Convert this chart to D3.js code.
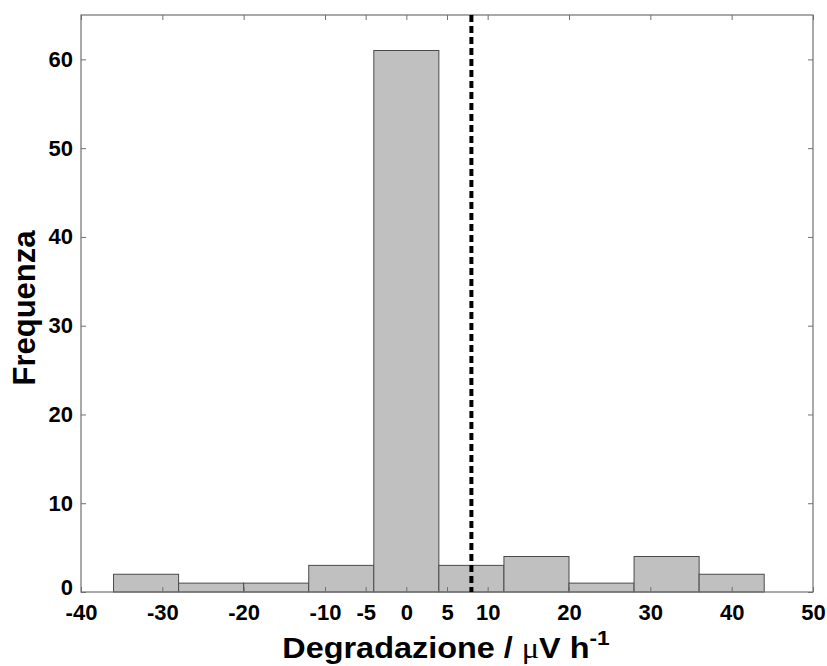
<!DOCTYPE html>
<html>
<head>
<meta charset="utf-8">
<script src="https://cdn.jsdelivr.net/npm/d3@7"></script>
<style>
  body { margin: 0; background: #fff; }
  svg text { font-family: Arial, "Liberation Sans", sans-serif; font-weight: bold; }
</style>
</head>
<body>
<div id="chart-area"></div>
<script>
// histogram bin edges and counts
const binEdges = [-36, -28, -20, -12, -4, 4, 12, 20, 28, 36, 44];
const counts = [2, 1, 1, 3, 61, 3, 4, 1, 4, 2];
const xTicks = [-40, -30, -20, -10, -5, 0, 5, 10, 20, 30, 40, 50];
const yTicks = [0, 10, 20, 30, 40, 50, 60];
const dashedAt = [8];

let margin = {left: 81, right: 14, top: 15, bottom: 74};
let width = 827 - margin.left - margin.right;
let height = 666 - margin.top - margin.bottom;

let svg = d3.select("#chart-area")
  .append("svg")
  .attr("width", 827)
  .attr("height", 666);

let g = svg.append("g")
  .attr("transform", "translate(" + margin.left + "," + margin.top + ")");

let x = d3.scaleLinear().domain([-40, 50]).range([0, width]);
let y = d3.scaleLinear().domain([0, 65]).range([height, 0]);

const axisCol = "#707070";

// bars
let bins = counts.map((c, i) => ({x0: binEdges[i], x1: binEdges[i + 1], n: c}));
g.append("g")
  .selectAll("rect")
  .data(bins)
  .enter()
  .append("rect")
  .attr("x", d => x(d.x0))
  .attr("y", d => y(d.n))
  .attr("width", d => x(d.x1) - x(d.x0))
  .attr("height", d => y(0) - y(d.n))
  .attr("fill", "#c0c0c0")
  .attr("stroke", "#4a4a4a")
  .attr("stroke-width", 1);

// axes, ticks inside on all four sides
function styleAxis(sel) {
  sel.select(".domain").remove();
  sel.selectAll(".tick line").attr("stroke", axisCol);
  sel.selectAll(".tick text")
    .attr("fill", "#000")
    .attr("font-size", "22px");
}

let plain = d => String(d);

let xAxis = g.append("g")
  .attr("transform", "translate(0," + height + ")")
  .call(d3.axisBottom(x).tickValues(xTicks).tickSizeInner(-5).tickPadding(12).tickFormat(plain));
styleAxis(xAxis);
xAxis.selectAll(".tick text").attr("dy", "0.71em");

let yAxis = g.append("g")
  .call(d3.axisLeft(y).tickValues(yTicks).tickSizeInner(-5).tickPadding(8).tickFormat(plain));
styleAxis(yAxis);
// nudge the "0" label up so it clears the "-40" below it
yAxis.selectAll(".tick text").filter(d => d === 0).attr("dy", "0.1em");

let xTop = g.append("g")
  .call(d3.axisTop(x).tickValues(xTicks).tickSizeInner(-5).tickFormat(""));
styleAxis(xTop);

let yRight = g.append("g")
  .attr("transform", "translate(" + width + ",0)")
  .call(d3.axisRight(y).tickValues(yTicks).tickSizeInner(-5).tickFormat(""));
styleAxis(yRight);

// box
g.append("rect")
  .attr("x", 0).attr("y", 0)
  .attr("width", width).attr("height", height)
  .attr("fill", "none")
  .attr("stroke", axisCol)
  .attr("stroke-width", 1.2);

// dashed reference line
g.append("g")
  .selectAll("line")
  .data(dashedAt)
  .enter()
  .append("line")
  .attr("x1", d => x(d)).attr("x2", d => x(d))
  .attr("y1", y(65)).attr("y2", y(0))
  .attr("stroke", "#000")
  .attr("stroke-width", 4)
  .attr("stroke-dasharray", "7,4");

// labels
let xLabel = svg.append("text")
  .attr("transform", "translate(446,658) scale(1.08,1)")
  .attr("text-anchor", "middle")
  .attr("font-size", "30px")
  .attr("fill", "#000");
xLabel.append("tspan").text("Degradazione / ");
xLabel.append("tspan").attr("font-weight", "normal").attr("font-family", "'Liberation Serif', serif").text("\u03bc");
xLabel.append("tspan").text("V h");
xLabel.append("tspan").attr("font-size", "21px").attr("dy", "-13").text("-1");

svg.append("text")
  .attr("transform", "translate(35," + 308 + ") rotate(-90)")
  .attr("text-anchor", "middle")
  .attr("font-size", "31px")
  .attr("fill", "#000")
  .text("Frequenza");
</script>
</body>
</html>
